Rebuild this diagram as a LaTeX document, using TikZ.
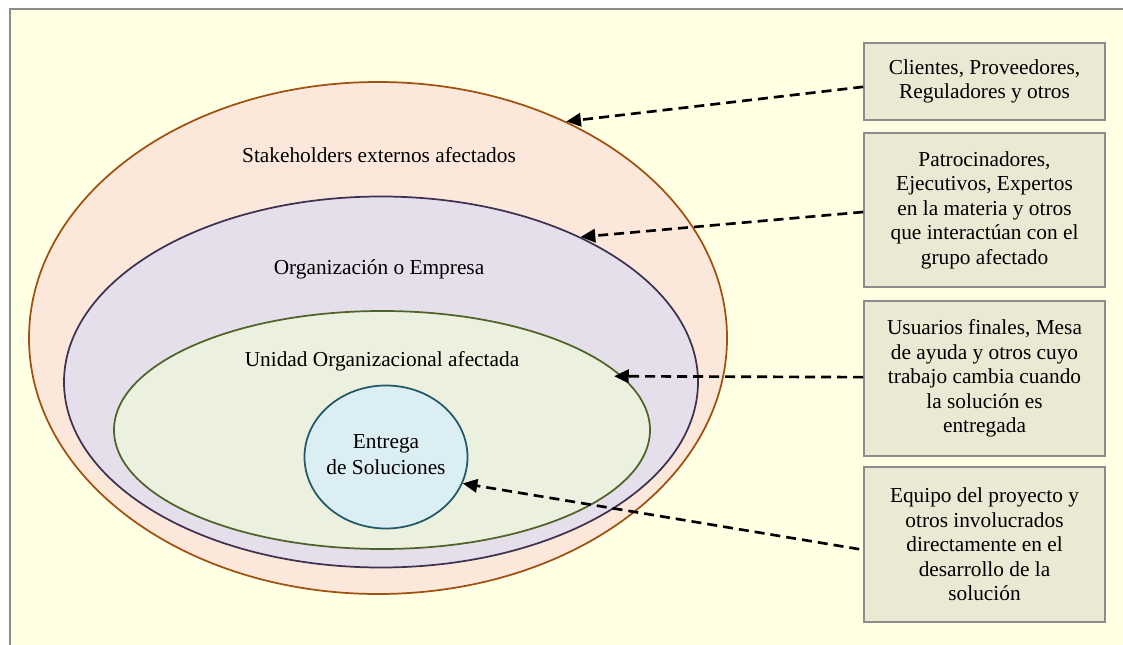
\documentclass[tikz,border=0pt]{standalone}
\usepackage{fontspec}
\setmainfont{Liberation Serif}
\usetikzlibrary{shapes.geometric,arrows.meta}
\definecolor{pagebg}{HTML}{FFFFE4}
\definecolor{frame}{HTML}{8C8C8C}
\definecolor{extfill}{HTML}{FCE8DB}
\definecolor{extline}{HTML}{A0500F}
\definecolor{orgfill}{HTML}{E5DFEB}
\definecolor{orgline}{HTML}{3F3151}
\definecolor{unitfill}{HTML}{EBF1DE}
\definecolor{unitline}{HTML}{4F6228}
\definecolor{corefill}{HTML}{DBEEF4}
\definecolor{coreline}{HTML}{215868}
\definecolor{boxfill}{HTML}{EBE9D3}
\tikzset{
  ring/.style={ellipse, inner sep=0pt, line width=1.3pt},
  notebox/.style={draw=frame, fill=boxfill, line width=1.2pt, minimum width=241*0.75pt,
    align=center, font=\fontsize{16pt}{18.4pt}\selectfont, inner sep=0pt},
  label/.style={font=\fontsize{16pt}{19.5pt}\selectfont, align=center},
  pointer/.style={line width=2pt, dash pattern=on 7.5pt off 4.5pt,
    -{Triangle[length=11pt,width=10pt]}}
}
\begin{document}
\begin{tikzpicture}[x=0.75pt,y=-0.75pt]
\useasboundingbox (0,0) rectangle (1123,645);
% page background with left and top rule
\fill[white] (0,0) rectangle (1123,645);
\fill[pagebg] (10,9) rectangle (1123,645);
\draw[frame, line width=1.5pt] (10,645) -- (10,9) -- (1123,9);

% nested stakeholder rings
\node[ring, draw=extline, fill=extfill, minimum width=698*0.75pt, minimum height=512*0.75pt] (ext) at (378,338) {};
\node[ring, draw=orgline, fill=orgfill, minimum width=634*0.75pt, minimum height=371*0.75pt] (org) at (381,382) {};
\node[ring, draw=unitline, fill=unitfill, minimum width=536*0.75pt, minimum height=238*0.75pt] (unit) at (382,430) {};
\node[ring, draw=coreline, fill=corefill, minimum width=163*0.75pt, minimum height=143*0.75pt] (core) at (386,457) {};

\node[label] (extlbl) at (379,155) {Stakeholders externos afectados};
\node[label] (orglbl) at (379,269) {Organización o Empresa};
\node[label] (unitlbl) at (382,361) {Unidad Organizacional afectada};
\node[label] (corelbl) at (386,455) {Entrega\\de Soluciones};

% description boxes
\node[notebox, minimum height=77*0.75pt] (b1) at (984.5,81.5) {Clientes, Proveedores,\\Reguladores y otros};
\node[notebox, minimum height=154*0.75pt] (b2) at (984.5,210) {Patrocinadores,\\Ejecutivos, Expertos\\en la materia y otros\\que interactúan con el\\grupo afectado};
\node[notebox, minimum height=155*0.75pt] (b3) at (984.5,378.5) {Usuarios finales, Mesa\\de ayuda y otros cuyo\\trabajo cambia cuando\\la solución es\\entregada};
\node[notebox, minimum height=155*0.75pt] (b4) at (984.5,544.5) {Equipo del proyecto y\\otros involucrados\\directamente en el\\desarrollo de la\\solución};

% pointers
\draw[pointer] ([yshift=-4pt]b1.west) -- (ext.49);
\draw[pointer] ([yshift=-1.5pt]b2.west) -- (org.36);
\draw[pointer] ([yshift=1pt]b3.west) -- ([xshift=-5pt,yshift=-1pt]unit.13);
\draw[pointer] ([xshift=-3pt,yshift=-3.5pt]b4.west) -- (core.-19);
\end{tikzpicture}
\end{document}
